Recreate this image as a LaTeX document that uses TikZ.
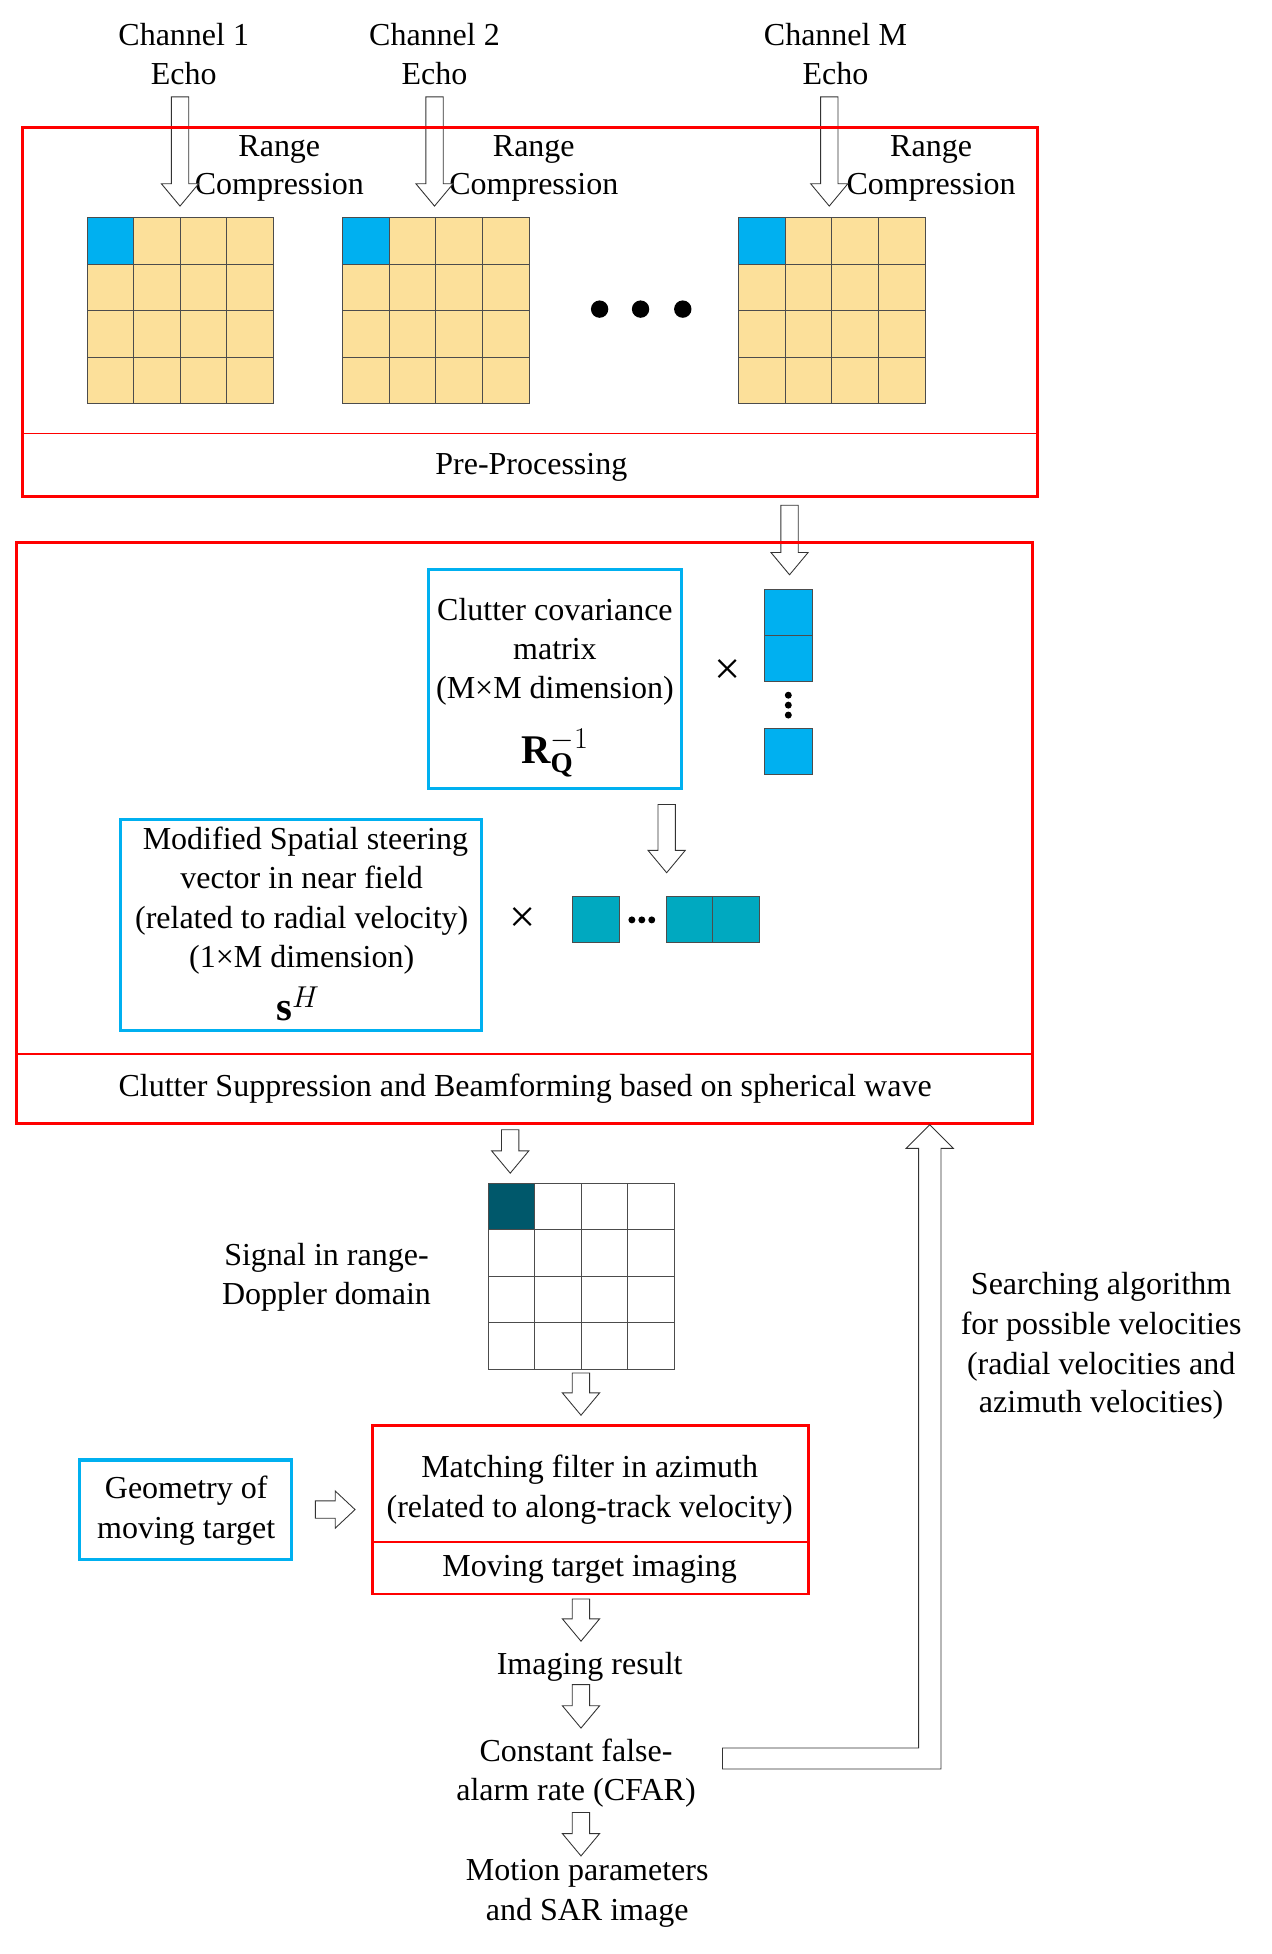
\documentclass[tikz,border=0pt]{standalone}
\usepackage{fontspec}
\setmainfont{Liberation Serif}
\begin{document}
\begin{tikzpicture}[x=0.3mm,y=-0.3mm,
  txt/.style={font=\fontsize{22}{26}\selectfont,inner sep=0pt,anchor=base},
  redbox/.style={draw=red,line width=2pt},
  bluebox/.style={draw=blu,line width=2.2pt},
  ha/.style={draw=black!80,fill=white,line width=0.6pt}]
\definecolor{yel}{HTML}{FCE09A}\definecolor{blu}{HTML}{00B0F0}
\definecolor{teal2}{HTML}{00A9C0}\definecolor{dteal}{HTML}{00586B}
\useasboundingbox (0,0) rectangle (1024,1574);
\newcommand\hdown[3]{\draw[ha] (#1-7,#2)--(#1+7,#2)--(#1+7,#3-18)--(#1+15,#3-18)--(#1,#3)--(#1-15,#3-18)--(#1-7,#3-18)--cycle;}
\newcommand\mygrid[4]{%
  \foreach \i in {0,...,3}{\foreach \j in {0,...,3}{
    \draw[fill=#4,draw=black!70] (#1+37.5*\i,#2+37.5*\j) rectangle ++(37.5,37.5);}}
  \draw[fill=#3,draw=black!70] (#1,#2) rectangle ++(37.5,37.5);}
\foreach \x/\l in {148/1,350/2,673/M}{
 \node[txt] (c\l a) at (\x,37) {Channel \l};
 \node[txt] (c\l b) at (\x,68) {Echo};}
\foreach \x/\t in {225/a,430/b,750/c}{
 \node[txt] (r\t) at (\x,126) {Range};
 \node[txt] (rc\t) at (\x,157) {Compression};}
\hdown{145}{78}{166}\hdown{350}{78}{166}\hdown{668}{78}{166}
\draw[redbox] (18,103) rectangle (836,400);
\draw[red,line width=1pt] (18,349)--(836,349);
\node[txt] (pp) at (428,382) {Pre-Processing};
\mygrid{70}{175}{blu}{yel}\mygrid{276}{175}{blu}{yel}\mygrid{595}{175}{blu}{yel}
\foreach \x in {483,516,550}{\fill (\x,249) circle (7);}
\hdown{636}{407}{463}
\draw[redbox] (13,437) rectangle (832,905);
\draw[red,line width=1pt] (13,849)--(832,849);
\node[txt] (cs) at (423,883) {Clutter Suppression and Beamforming based on spherical wave};
\draw[bluebox] (345,459) rectangle (549,635);
\node[txt] at (447,500) {Clutter covariance};
\node[txt] at (447,531) {matrix};
\node[txt] at (447,563) {(M×M dimension)};
\node[txt,font=\fontsize{28}{30}\selectfont] at (447,615) {$\mathbf{R}_{\mathbf{Q}}^{-1}$};
\node[txt,font=\fontsize{32}{30}\selectfont] at (586,551) {×};
\foreach \y in {475,512,587}{\draw[fill=blu,draw=black!70] (616,\y) rectangle ++(38,37);}
\foreach \y in {560,568,576}{\fill (635,\y) circle (2.8);}
\hdown{537}{648}{703}
\draw[bluebox] (97,660) rectangle (388,830);
\node[txt] at (246,684) {Modified Spatial steering};
\node[txt] at (243,716) {vector in near field};
\node[txt] at (243,748) {(related to radial velocity)};
\node[txt] at (243,779) {(1×M dimension)};
\node[txt,font=\fontsize{28}{30}\selectfont] at (240,822) {$\mathbf{s}^{H}$};
\node[txt,font=\fontsize{32}{30}\selectfont] at (421,751) {×};
\foreach \x in {461,537,574}{\draw[fill=teal2,draw=black!70] (\x,722) rectangle ++(37.5,37);}
\foreach \x in {509,517,525}{\fill (\x,741) circle (2.8);}
\hdown{411}{910}{945}
\mygrid{393}{953}{dteal}{white}
\node[txt] at (263,1019) {Signal in range-};
\node[txt] at (263,1051) {Doppler domain};
\hdown{468}{1106}{1140}
\draw[redbox] (300,1148) rectangle (651,1284);
\draw[red,line width=1pt] (300,1242)--(651,1242);
\node[txt] at (475,1190) {Matching filter in azimuth};
\node[txt] at (475,1222) {(related to along-track velocity)};
\node[txt] at (475,1270) {Moving target imaging};
\draw[bluebox] (64,1176) rectangle (235,1256);
\node[txt] at (150,1207) {Geometry of};
\node[txt] at (150,1239) {moving target};
\draw[ha] (254,1209)--(270,1209)--(270,1201)--(286,1216)--(270,1231)--(270,1223)--(254,1223)--cycle;
\hdown{468}{1288}{1322}
\node[txt] at (475,1349) {Imaging result};
\hdown{468}{1357}{1392}
\node[txt] at (464,1419) {Constant false-};
\node[txt] at (464,1450) {alarm rate (CFAR)};
\hdown{468}{1460}{1495}
\node[txt] at (473,1515) {Motion parameters};
\node[txt] at (473,1547) {and SAR image};
\draw[ha] (582,1408)--(740,1408)--(740,925)--(730,925)--(749,906)--(768,925)--(758,925)--(758,1425)--(582,1425)--cycle;
\node[txt] at (887,1043) {Searching algorithm};
\node[txt] at (887,1075) {for possible velocities};
\node[txt] at (887,1107) {(radial velocities and};
\node[txt] at (887,1138) {azimuth velocities)};
\end{tikzpicture}
\end{document}
